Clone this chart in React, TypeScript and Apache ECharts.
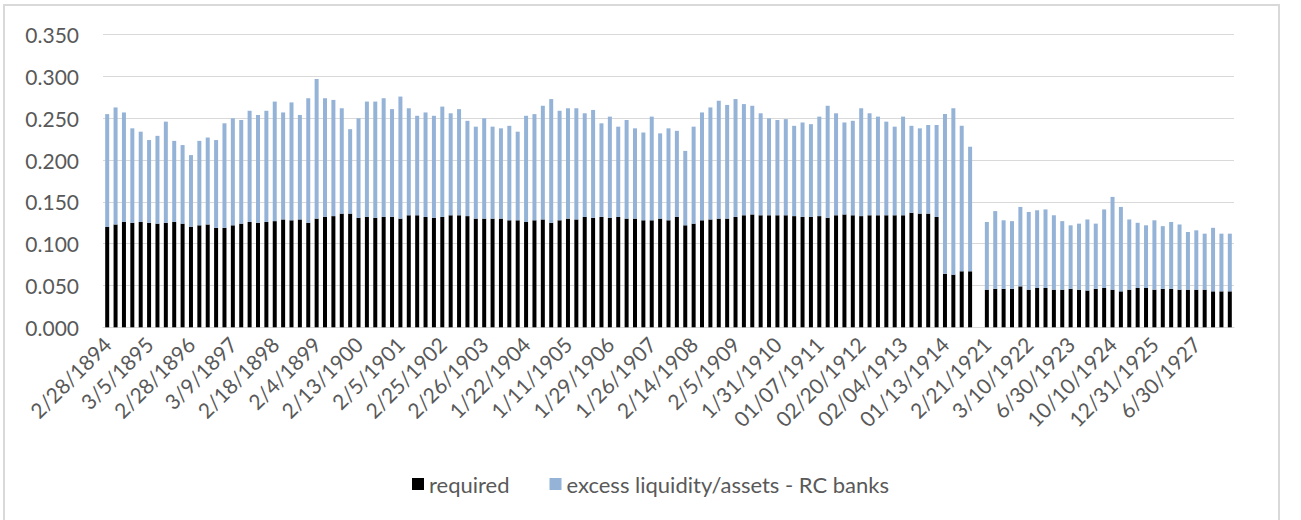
import React, { useEffect, useRef } from "react";
import * as echarts from "echarts";

// Tick labels shown under every 5th bar
const tickLabels: string[] = [
  "2/28/1894", "3/5/1895", "2/28/1896", "3/9/1897", "2/18/1898", "2/4/1899",
  "2/13/1900", "2/5/1901", "2/25/1902", "2/26/1903", "1/22/1904", "1/11/1905",
  "1/29/1906", "1/26/1907", "2/14/1908", "2/5/1909", "1/31/1910", "01/07/1911",
  "02/20/1912", "02/04/1913", "01/13/1914", "2/21/1921", "3/10/1922", "6/30/1923",
  "10/10/1924", "12/31/1925", "6/30/1927",
];

// required reserve ratio (black)
const requiredValues: (number | null)[] = [
  0.120, 0.123, 0.126, 0.125, 0.126, 0.125, 0.124, 0.125, 0.126, 0.124,
  0.120, 0.122, 0.123, 0.119, 0.119, 0.122, 0.124, 0.126, 0.125, 0.126,
  0.127, 0.129, 0.128, 0.129, 0.125, 0.130, 0.132, 0.133, 0.136, 0.136,
  0.131, 0.132, 0.131, 0.132,
  0.132, 0.130, 0.134, 0.134, 0.132, 0.131, 0.132, 0.134, 0.134, 0.133,
  0.130, 0.130, 0.130, 0.130, 0.128, 0.128, 0.126, 0.128, 0.129, 0.125,
  0.128, 0.130, 0.129, 0.132, 0.131, 0.132, 0.131, 0.132, 0.130, 0.130,
  0.128, 0.128, 0.130, 0.128, 0.132,
  0.122, 0.124, 0.128, 0.129, 0.130, 0.130, 0.132, 0.134, 0.135, 0.134,
  0.134, 0.134, 0.134, 0.133, 0.132, 0.132, 0.133, 0.131, 0.134, 0.135,
  0.134, 0.133, 0.134, 0.134, 0.134, 0.134, 0.134, 0.137, 0.136, 0.136,
  0.132, 0.064, 0.063, 0.067, 0.067,
  null,
  0.045, 0.046, 0.046, 0.046, 0.049, 0.045, 0.047, 0.047, 0.045, 0.045,
  0.046, 0.045, 0.044, 0.046, 0.047, 0.045, 0.043, 0.045, 0.047, 0.047,
  0.045, 0.046, 0.046, 0.045, 0.045, 0.045, 0.045, 0.043, 0.043, 0.043,
];

// total liquidity/assets (top of the stacked bar)
const totalValues: (number | null)[] = [
  0.255, 0.263, 0.257, 0.238, 0.234, 0.224, 0.229, 0.246, 0.223, 0.218,
  0.206, 0.223, 0.227, 0.224, 0.244, 0.250, 0.248, 0.259, 0.254, 0.259,
  0.270, 0.257, 0.269, 0.254, 0.274, 0.297, 0.274, 0.272, 0.262, 0.237,
  0.250, 0.270, 0.270, 0.274,
  0.261, 0.276, 0.262, 0.253, 0.257, 0.253, 0.264, 0.256, 0.261, 0.247,
  0.240, 0.250, 0.240, 0.238, 0.241, 0.234, 0.253, 0.255, 0.265, 0.273,
  0.259, 0.262, 0.262, 0.256, 0.260, 0.244, 0.252, 0.240, 0.248, 0.238,
  0.233, 0.252, 0.232, 0.238, 0.235,
  0.211, 0.240, 0.257, 0.263, 0.271, 0.266, 0.273, 0.267, 0.265, 0.256,
  0.250, 0.248, 0.249, 0.241, 0.245, 0.243, 0.252, 0.265, 0.256, 0.245,
  0.247, 0.262, 0.256, 0.252, 0.246, 0.240, 0.252, 0.241, 0.238, 0.242,
  0.242, 0.255, 0.262, 0.241, 0.216,
  null,
  0.126, 0.139, 0.128, 0.127, 0.144, 0.138, 0.140, 0.141, 0.134, 0.127,
  0.122, 0.124, 0.129, 0.124, 0.141, 0.156, 0.144, 0.129, 0.125, 0.122,
  0.128, 0.121, 0.126, 0.123, 0.114, 0.116, 0.112, 0.119, 0.112, 0.112,
];

const LABEL_EVERY = 5;
const categories: string[] = requiredValues.map((_, i) =>
  i % LABEL_EVERY === 0 ? tickLabels[i / LABEL_EVERY] ?? "" : ""
);

// excess = total - required (stacked on top of required)
const excessValues: (number | null)[] = totalValues.map((t, i) => {
  const r = requiredValues[i];
  if (t == null || r == null) return null;
  return Math.round((t - r) * 1000) / 1000;
});

const FONT = "Lato, 'Liberation Sans', sans-serif";
const TEXT_COLOR = "#595959";
const GRID_COLOR = "#d9d9d9";

export default function App() {
  const ref = useRef<HTMLDivElement>(null);

  useEffect(() => {
    if (!ref.current) return;
    const chart = echarts.init(ref.current, undefined, { renderer: "svg" });
    chart.setOption({
      animation: false,
      backgroundColor: "#ffffff",
      textStyle: { fontFamily: FONT },
      graphic: [
        {
          type: "rect",
          shape: { x: 4, y: 5, width: 1275, height: 540 },
          style: { fill: "none", stroke: GRID_COLOR, lineWidth: 2 },
          silent: true,
        },
      ],
      grid: { left: 103, right: 67, top: 34.7, bottom: 192.7, containLabel: false },
      legend: {
        bottom: 20,
        left: "center",
        icon: "rect",
        itemWidth: 12,
        itemHeight: 12,
        itemGap: 40,
        textStyle: { color: TEXT_COLOR, fontSize: 22, fontFamily: FONT },
        data: ["required", "excess liquidity/assets - RC banks"],
      },
      xAxis: {
        type: "category",
        data: categories,
        axisLine: { show: true, lineStyle: { color: GRID_COLOR, width: 1 } },
        axisTick: { show: false },
        axisLabel: {
          interval: LABEL_EVERY - 1,
          rotate: 45,
          color: TEXT_COLOR,
          fontSize: 21,
          fontFamily: FONT,
          margin: 13,
        },
      },
      yAxis: {
        type: "value",
        min: 0,
        max: 0.35,
        interval: 0.05,
        axisLine: { show: false },
        axisTick: { show: false },
        splitLine: { lineStyle: { color: GRID_COLOR, width: 1 } },
        axisLabel: {
          color: TEXT_COLOR,
          fontSize: 21,
          fontFamily: FONT,
          margin: 24,
          formatter: (v: number) => v.toFixed(3),
        },
      },
      series: [
        {
          name: "required",
          type: "bar",
          stack: "total",
          data: requiredValues,
          barWidth: 4,
          itemStyle: { color: "#000000" },
        },
        {
          name: "excess liquidity/assets - RC banks",
          type: "bar",
          stack: "total",
          data: excessValues,
          barWidth: 4,
          itemStyle: { color: "#95b3d7" },
        },
      ],
    });
    return () => chart.dispose();
  }, []);

  return (
    <div
      ref={ref}
      style={{ position: "fixed", left: 0, top: 0, width: 1301, height: 520 }}
    />
  );
}
